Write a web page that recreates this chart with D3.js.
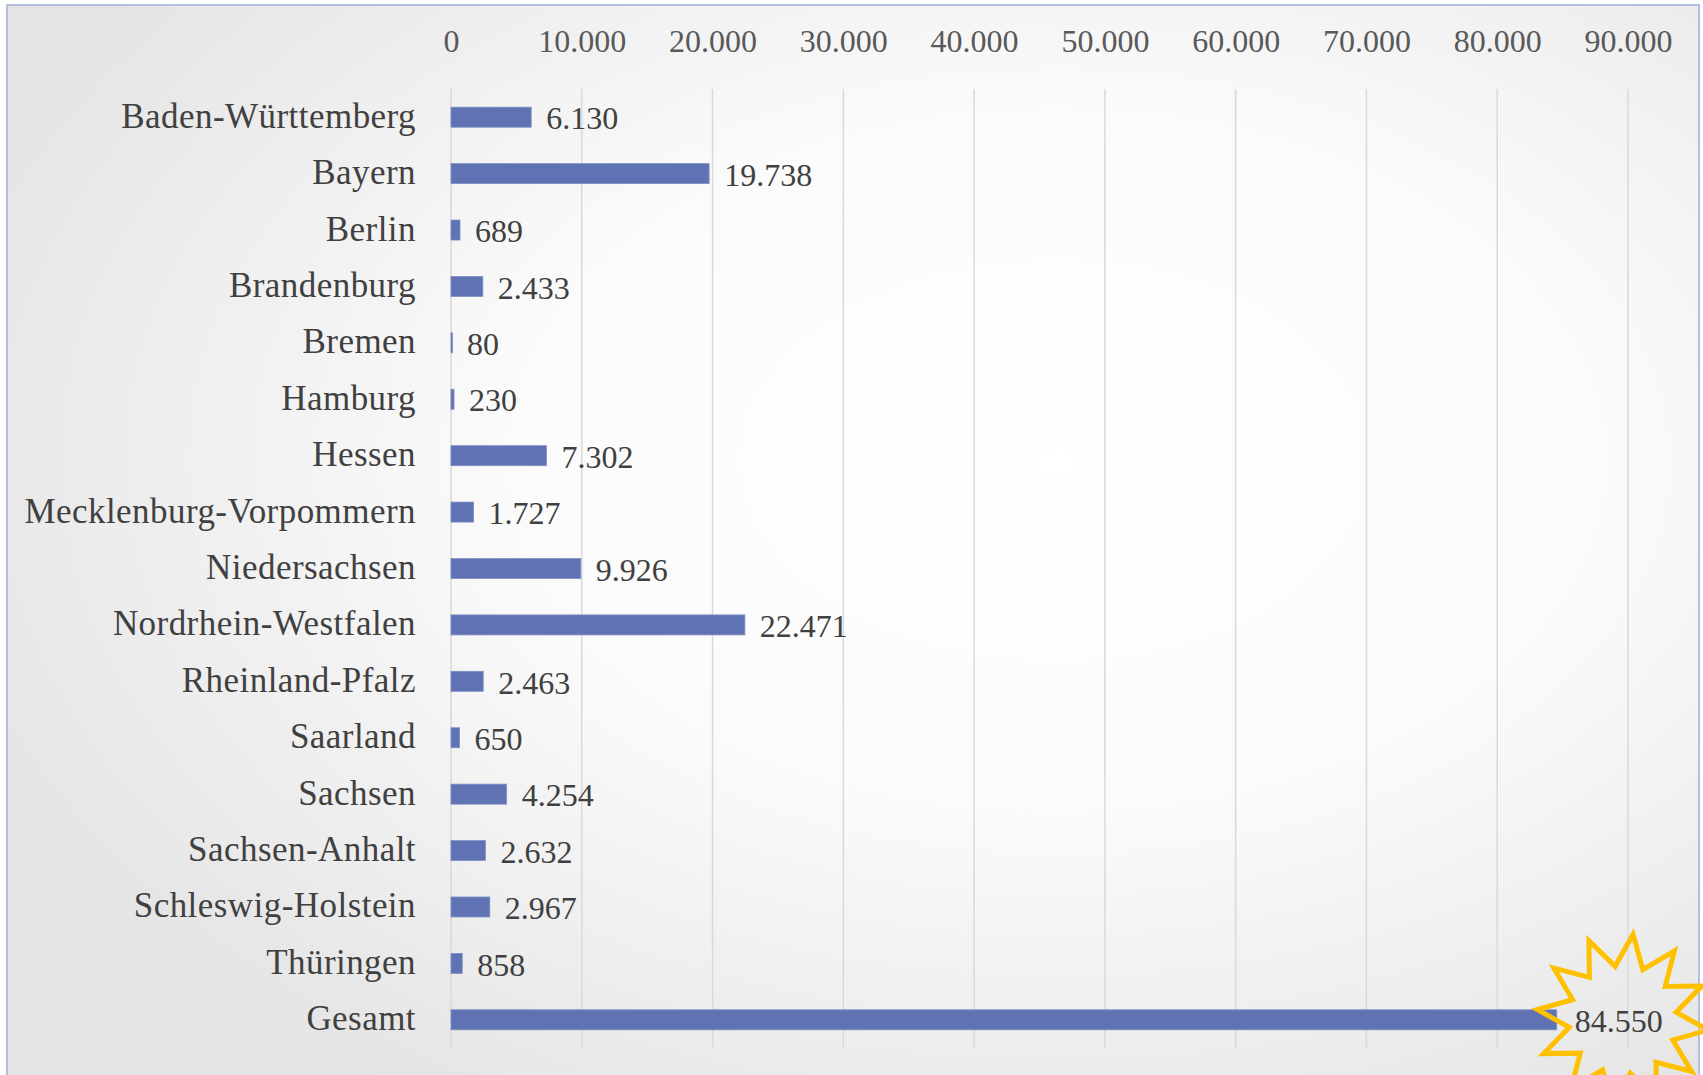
<!DOCTYPE html>
<html><head><meta charset="utf-8">
<script src="https://cdn.jsdelivr.net/npm/d3@7"></script>
<style>html,body{margin:0;padding:0;background:#fff;overflow:hidden}</style>
</head><body>
<svg id="chart" width="1703" height="1075"></svg>
<script>
const categories = ["Baden-Württemberg","Bayern","Berlin","Brandenburg","Bremen","Hamburg","Hessen","Mecklenburg-Vorpommern","Niedersachsen","Nordrhein-Westfalen","Rheinland-Pfalz","Saarland","Sachsen","Sachsen-Anhalt","Schleswig-Holstein","Thüringen","Gesamt"];
const values = [6130,19738,689,2433,80,230,7302,1727,9926,22471,2463,650,4254,2632,2967,858,84550];
const tickValues = [0,10000,20000,30000,40000,50000,60000,70000,80000,90000];

const W = 1703, H = 1075;
const svg = d3.select("#chart");
const de = d3.formatLocale({decimal:",", thousands:".", grouping:[3], currency:["","€"]});
const fmt = de.format(",d");
const FONT = "'Liberation Serif', 'Times New Roman', serif";

// background
const defs = svg.append("defs");
const grad = defs.append("radialGradient").attr("id","bg")
  .attr("cx","62%").attr("cy","42%").attr("r","70%");
grad.append("stop").attr("offset","0%").attr("stop-color","#ffffff");
grad.append("stop").attr("offset","45%").attr("stop-color","#fbfbfb");
grad.append("stop").attr("offset","100%").attr("stop-color","#e4e4e4");
svg.append("rect").attr("x",7).attr("y",5).attr("width",1692).attr("height",1085)
  .attr("fill","url(#bg)").attr("stroke","#b3bfde").attr("stroke-width",2);

const x = d3.scaleLinear().domain([0,90000]).range([451,1628]);
const y = d3.scaleBand().domain(categories).range([89,1048]).paddingInner(0).paddingOuter(0);
const barH = 20;

// gridlines
svg.append("g").selectAll("line").data(tickValues).join("line")
  .attr("x1",d=>x(d)).attr("x2",d=>x(d)).attr("y1",89).attr("y2",1048)
  .attr("stroke","#d9d9d9").attr("stroke-width",1.5);

// top axis
const axis = d3.axisTop(x).tickValues(tickValues).tickFormat(d=>fmt(d)).tickSize(0).tickPadding(0);
const ag = svg.append("g").attr("transform","translate(0,52)").call(axis);
ag.select(".domain").remove();
ag.selectAll("text").attr("font-family",FONT).attr("font-size",32).attr("fill","#595959");

// category labels
const yAxis = d3.axisLeft(y).tickSize(0).tickPadding(0);
const yg = svg.append("g").attr("transform","translate(416,0)").call(yAxis);
yg.select(".domain").remove();
yg.selectAll("text").attr("font-family",FONT).attr("font-size",35).attr("letter-spacing","0.45px")
  .attr("fill","#404040").attr("dy","0.3em");

// bars
const data = categories.map((c,i)=>({c, v:values[i]}));
svg.append("g").selectAll("rect").data(data).join("rect")
  .attr("x",x(0)).attr("y",d=>y(d.c)+y.bandwidth()/2-barH/2)
  .attr("width",d=>Math.max(1.5,x(d.v)-x(0))).attr("height",barH)
  .attr("fill","#5f73b4").attr("stroke","#7f8fc4").attr("stroke-width",0.8);

// star annotation around total
const last = data[data.length-1];
const cx = x(last.v)+66, cy = y(last.c)+y.bandwidth()/2;
const nPts = 12, rOut = 86, rIn = 54;
const starPts = d3.range(nPts*2).map(i=>[ (i*Math.PI/nPts) + 0.12, i%2===0 ? rOut : rIn ]);
svg.append("path")
  .attr("d", d3.lineRadial().angle(d=>d[0]).radius(d=>d[1]).curve(d3.curveLinearClosed)(starPts))
  .attr("transform",`translate(${cx},${cy})`)
  .attr("fill","none").attr("stroke","#ffc000").attr("stroke-width",5).attr("stroke-linejoin","miter");

// value labels
svg.append("g").selectAll("text").data(data).join("text")
  .attr("x",d=>x(d.v)+ (d===last ? 18 : 15))
  .attr("y",d=>y(d.c)+y.bandwidth()/2+1)
  .attr("dy","0.35em")
  .attr("font-family",FONT).attr("font-size",32).attr("fill","#404040")
  .text(d=>fmt(d.v));
</script>
</body></html>
